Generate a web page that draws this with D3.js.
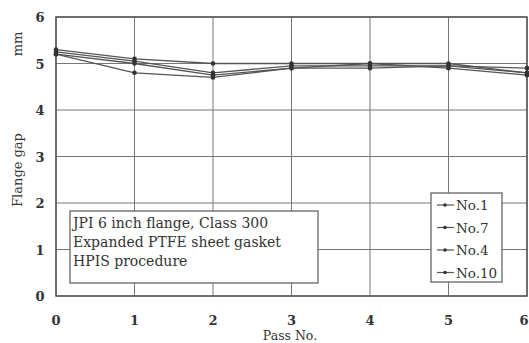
<!DOCTYPE html>
<html>
<head>
<meta charset="utf-8">
<script src="https://cdn.jsdelivr.net/npm/d3@7"></script>
<style>
  body { margin: 0; background: #fff; }
  svg text { font-family: "DejaVu Serif", "Liberation Serif", serif; fill: #333; }
</style>
</head>
<body>
<div id="chart"></div>
<script>
// Data
var passes = [0, 1, 2, 3, 4, 5, 6];
var seriesNames = ["No.1", "No.7", "No.4", "No.10"];
var no1 = [5.3, 5.1, 5.0, 5.0, 5.0, 5.0, 4.8];
var no7 = [5.25, 5.05, 4.8, 4.95, 4.95, 4.95, 4.9];
var no4 = [5.2, 5.0, 4.75, 4.9, 5.0, 4.9, 4.75];
var no10 = [5.2, 4.8, 4.7, 4.9, 4.9, 4.95, 4.8];
var yTicks = [0, 1, 2, 3, 4, 5, 6];
var noteLines = ["JPI 6 inch flange, Class 300", "Expanded PTFE sheet gasket", "HPIS procedure"];

var width = 529, height = 343;
var margin = {left: 56, right: 2, top: 17, bottom: 47};
var lineColor = "#555";

var svg = d3.select("#chart").append("svg")
    .attr("width", width).attr("height", height);

var x = d3.scaleLinear().domain([0, 6]).range([margin.left, width - margin.right]);
var y = d3.scaleLinear().domain([0, 6]).range([height - margin.bottom, margin.top]);

// Grid
var gridG = svg.append("g");
gridG.selectAll(".vgrid").data(passes).enter().append("line")
    .attr("x1", function(d) { return x(d); }).attr("x2", function(d) { return x(d); })
    .attr("y1", y(0)).attr("y2", y(6))
    .attr("stroke", "#777").attr("stroke-width", 1);
gridG.selectAll(".hgrid").data(yTicks).enter().append("line")
    .attr("x1", x(0)).attr("x2", x(6))
    .attr("y1", function(d) { return y(d); }).attr("y2", function(d) { return y(d); })
    .attr("stroke", "#777").attr("stroke-width", 1);
svg.append("rect")
    .attr("x", x(0)).attr("y", y(6))
    .attr("width", x(6) - x(0)).attr("height", y(0) - y(6))
    .attr("fill", "none").attr("stroke", "#555").attr("stroke-width", 1.5);

// Tick labels
svg.selectAll(".ylab").data(yTicks).enter().append("text")
    .attr("x", 40).attr("y", function(d) { return y(d) + 5; })
    .attr("text-anchor", "middle").attr("font-size", 13).attr("font-weight", "bold")
    .text(function(d) { return d; });
svg.selectAll(".xlab").data(passes).enter().append("text")
    .attr("x", function(d) { return Math.min(x(d), width - 5); }).attr("y", 325)
    .attr("text-anchor", "middle").attr("font-size", 13).attr("font-weight", "bold")
    .text(function(d) { return d; });

svg.append("text").attr("x", 290).attr("y", 340)
    .attr("text-anchor", "middle").attr("font-size", 12.5)
    .text("Pass No.");
svg.append("text").attr("transform", "translate(22,170) rotate(-90)")
    .attr("text-anchor", "middle").attr("font-size", 13)
    .text("Flange gap");
svg.append("text").attr("transform", "translate(22,44) rotate(-90)")
    .attr("text-anchor", "middle").attr("font-size", 13)
    .text("mm");

// Series
var allSeries = [no1, no7, no4, no10];
var line = d3.line()
    .x(function(d, i) { return x(passes[i]); })
    .y(function(d) { return y(d); });
var seriesG = svg.selectAll(".series").data(allSeries).enter().append("g");
seriesG.append("path")
    .attr("d", function(d) { return line(d); })
    .attr("fill", "none").attr("stroke", lineColor).attr("stroke-width", 1.3);
seriesG.selectAll("circle").data(function(d) { return d; }).enter().append("circle")
    .attr("cx", function(d, i) { return x(passes[i]); })
    .attr("cy", function(d) { return y(d); })
    .attr("r", 2.3).attr("fill", "#333");

// Note box
var noteG = svg.append("g");
noteG.append("rect").attr("x", 70).attr("y", 211).attr("width", 248).attr("height", 72)
    .attr("fill", "#fff").attr("stroke", "#666").attr("stroke-width", 1.3);
noteG.selectAll("text").data(noteLines).enter().append("text")
    .attr("x", 73).attr("y", function(d, i) { return 228 + i * 19; })
    .attr("font-size", 14)
    .text(function(d) { return d; });

// Legend
var legendG = svg.append("g");
legendG.append("rect").attr("x", 431).attr("y", 193).attr("width", 71).attr("height", 89)
    .attr("fill", "#fff").attr("stroke", "#666").attr("stroke-width", 1.3);
var item = legendG.selectAll(".item").data(seriesNames).enter().append("g")
    .attr("transform", function(d, i) { return "translate(0," + (205 + i * 22.5) + ")"; });
item.append("line").attr("x1", 437).attr("x2", 454).attr("y1", 0).attr("y2", 0)
    .attr("stroke", lineColor).attr("stroke-width", 1.2);
item.append("circle").attr("cx", 445).attr("cy", 0).attr("r", 1.8).attr("fill", "#333");
item.append("text").attr("x", 456).attr("y", 5).attr("font-size", 13.5)
    .text(function(d) { return d; });
</script>
</body>
</html>
